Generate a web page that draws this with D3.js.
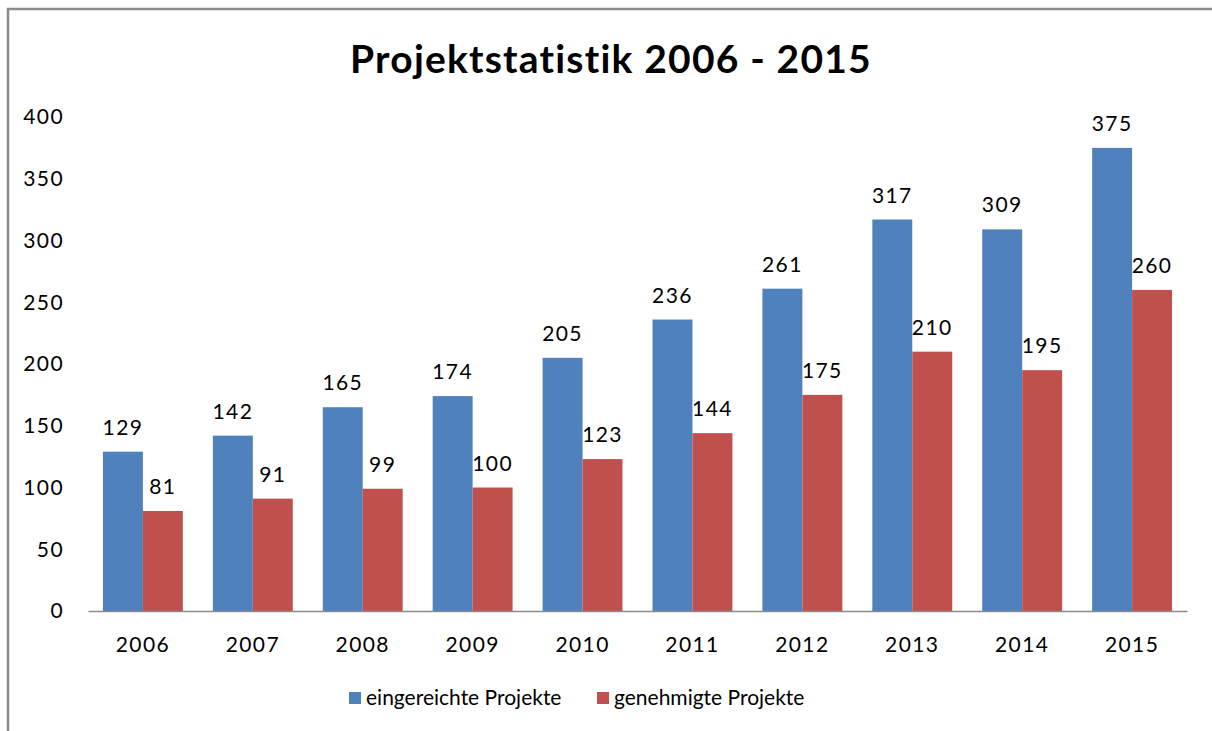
<!DOCTYPE html>
<html>
<head>
<meta charset="utf-8">
<script src="https://cdn.jsdelivr.net/npm/d3@7"></script>
<style>
  html, body { margin: 0; padding: 0; background: #ffffff; }
  svg { display: block; font-family: Lato, "Open Sans", sans-serif; }
</style>
</head>
<body>
<div id="chart"></div>
<script>
const years = ['2006', '2007', '2008', '2009', '2010', '2011', '2012', '2013', '2014', '2015'];
const submitted = [129, 142, 165, 174, 205, 236, 261, 317, 309, 375];
const approved = [81, 91, 99, 100, 123, 144, 175, 210, 195, 260];
const seriesNames = ['eingereichte Projekte', 'genehmigte Projekte'];
const yTicks = [0, 50, 100, 150, 200, 250, 300, 350, 400];

const width = 1212;
const height = 731;
const colors = ['#4f81bd', '#c0504d'];
const textSize = 21;
const textSpacing = 1.4;

const svg = d3.select('#chart').append('svg')
    .attr('width', width)
    .attr('height', height);

// chart frame (only left/top visible in the crop)
svg.append('rect')
    .attr('x', 8).attr('y', 9)
    .attr('width', width + 20).attr('height', height + 20)
    .attr('fill', '#ffffff')
    .attr('stroke', '#8c8c8c')
    .attr('stroke-width', 2.5);

const plot = { left: 88, right: 1187, top: 117, bottom: 611 };

const x = d3.scaleBand()
    .domain(years)
    .range([plot.left, plot.right])
    .paddingInner(0.273)
    .paddingOuter(0.136);

const y = d3.scaleLinear()
    .domain([0, 400])
    .range([plot.bottom, plot.top]);

const series = [submitted, approved];
const rows = years.map((yr, i) => ({ year: yr, values: series.map((s) => s[i]) }));

const xSub = d3.scaleBand()
    .domain(d3.range(series.length))
    .range([0, x.bandwidth()]);

// title
svg.append('text')
    .attr('x', 611)
    .attr('y', 73)
    .attr('text-anchor', 'middle')
    .attr('font-size', 39)
    .attr('font-weight', 700)
    .attr('letter-spacing', 1.2)
    .attr('fill', '#000000')
    .text('Projektstatistik 2006 - 2015');

// y tick labels (no axis line in reference)
svg.append('g')
    .selectAll('text')
    .data(yTicks)
    .join('text')
    .attr('x', 64)
    .attr('y', (d) => y(d))
    .attr('dy', '0.35em')
    .attr('text-anchor', 'end')
    .attr('font-size', textSize)
    .attr('letter-spacing', textSpacing)
    .attr('fill', '#000000')
    .text((d) => d);

// bars
const groups = svg.append('g')
    .selectAll('g')
    .data(rows)
    .join('g')
    .attr('transform', (d) => `translate(${x(d.year)},0)`);

groups.selectAll('rect')
    .data((d) => d.values.map((v, k) => ({ v, k })))
    .join('rect')
    .attr('x', (d) => xSub(d.k))
    .attr('y', (d) => y(d.v))
    .attr('width', xSub.bandwidth())
    .attr('height', (d) => y(0) - y(d.v))
    .attr('fill', (d) => colors[d.k]);

groups.selectAll('text')
    .data((d) => d.values.map((v, k) => ({ v, k })))
    .join('text')
    .attr('x', (d) => xSub(d.k) + xSub.bandwidth() / 2)
    .attr('y', (d) => y(d.v) - 17)
    .attr('text-anchor', 'middle')
    .attr('font-size', textSize)
    .attr('letter-spacing', textSpacing)
    .attr('fill', '#000000')
    .text((d) => d.v);

// x axis
const xAxis = svg.append('g')
    .attr('transform', `translate(0,${plot.bottom})`)
    .call(d3.axisBottom(x).tickSize(0).tickPadding(26));
xAxis.select('.domain').attr('stroke', '#8c8c8c').attr('stroke-width', 1.5);
xAxis.selectAll('text')
    .attr('font-size', textSize)
    .attr('letter-spacing', textSpacing)
    .attr('font-family', 'Lato, "Open Sans", sans-serif')
    .attr('fill', '#000000');

// legend
const legendX = [349, 597];
const legend = svg.append('g')
    .selectAll('g')
    .data(seriesNames)
    .join('g')
    .attr('transform', (d, i) => `translate(${legendX[i]},698)`);
legend.append('rect')
    .attr('x', 0).attr('y', -6)
    .attr('width', 12).attr('height', 12)
    .attr('fill', (d, i) => colors[i]);
legend.append('text')
    .attr('x', 17)
    .attr('y', 0)
    .attr('dy', '0.35em')
    .attr('font-size', textSize)
    .attr('fill', '#000000')
    .text((d) => d);
</script>
</body>
</html>
